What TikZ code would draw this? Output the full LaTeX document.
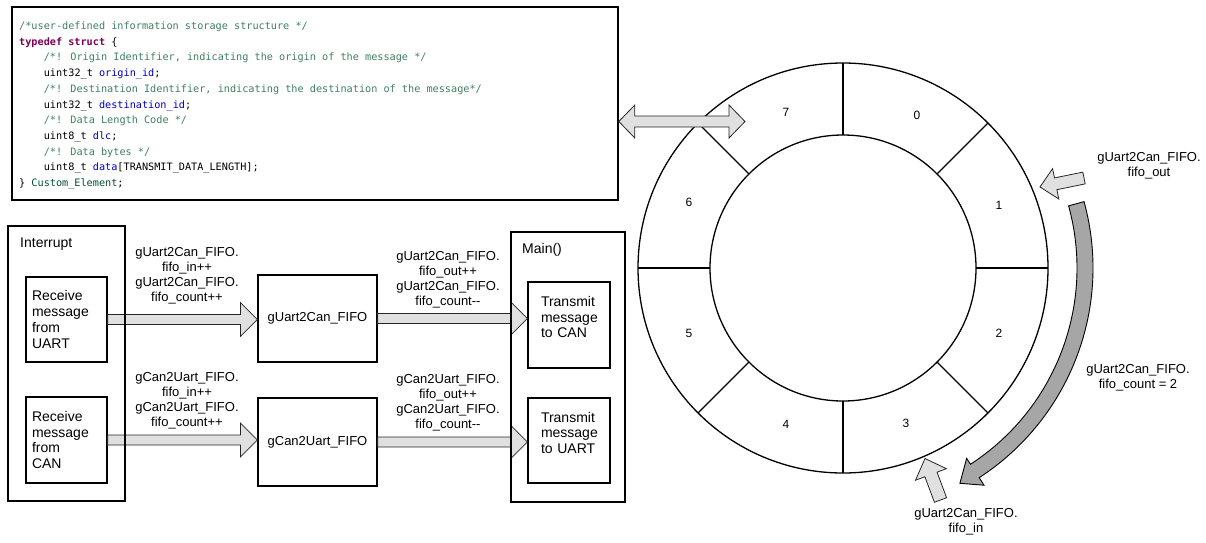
\documentclass[tikz,border=0pt]{standalone}
\usepackage{fontspec}
\setmainfont{Liberation Sans}
\newfontfamily\codefont{DejaVu Sans Mono}
\usetikzlibrary{calc}
\definecolor{cmt}{RGB}{63,127,95}
\definecolor{kw}{RGB}{127,0,85}
\definecolor{idf}{RGB}{0,0,192}
\definecolor{typ}{RGB}{0,80,50}
\definecolor{lgray}{RGB}{224,224,224}
\definecolor{dgray}{RGB}{166,166,166}
% #1 extra style, #2 tail, #3 tip, #4 shaft half width, #5 head half width, #6 head length
\newcommand\blockarrow[6][]{%
  \path let \p1=(#2), \p2=(#3) in \pgfextra{%
    \pgfmathsetmacro\balen{veclen(\x2-\x1,\y2-\y1)}%
    \pgfmathsetmacro\baang{atan2(\y2-\y1,\x2-\x1)}%
    \xdef\gbalen{\balen}\xdef\gbaang{\baang}};
  \filldraw[barrow,#1,shift={(#2)},rotate=\gbaang]
    (0,-#4) -- (\gbalen-#6,-#4) -- (\gbalen-#6,-#5) -- (\gbalen,0) --
    (\gbalen-#6,#5) -- (\gbalen-#6,#4) -- (0,#4) -- cycle;
}
\newcommand\dblockarrow[6][]{%
  \path let \p1=(#2), \p2=(#3) in \pgfextra{%
    \pgfmathsetmacro\balen{veclen(\x2-\x1,\y2-\y1)}%
    \pgfmathsetmacro\baang{atan2(\y2-\y1,\x2-\x1)}%
    \xdef\gbalen{\balen}\xdef\gbaang{\baang}};
  \filldraw[barrow,#1,shift={(#2)},rotate=\gbaang]
    (0,0) -- (#6,-#5) -- (#6,-#4) -- (\gbalen-#6,-#4) -- (\gbalen-#6,-#5) -- (\gbalen,0) --
    (\gbalen-#6,#5) -- (\gbalen-#6,#4) -- (#6,#4) -- (#6,#5) -- cycle;
}
\begin{document}
\begin{tikzpicture}[x=1pt,y=-1pt,
  code/.style={anchor=base west,inner sep=0pt,font=\codefont\fontsize{10.2}{12}\selectfont},
  ibox/.style={draw,line width=1.2pt,align=left,font=\fontsize{14}{15.7}\selectfont,inner ysep=0pt},
  fbox/.style={draw,line width=1.2pt,font=\fontsize{13}{15}\selectfont,minimum width=119pt,inner sep=0pt},
  cont/.style={draw,line width=1.2pt,inner sep=0pt},
  ttl/.style={anchor=west,inner sep=0pt,font=\fontsize{14}{16}\selectfont},
  lbl/.style={align=center,font=\fontsize{13}{15}\selectfont,inner sep=0pt},
  num/.style={font=\fontsize{12}{14}\selectfont,inner sep=0pt},
  ring/.style={line width=1.3pt},
  barrow/.style={fill=lgray,draw=black!85,line width=0.8pt,line join=miter},
]
\useasboundingbox (0,0) rectangle (1206,542);

% ---------- code box ----------
\node[draw,line width=1.6pt,minimum width=606pt,minimum height=193pt,inner sep=0pt] (cbox) at (315,103.5) {};
\node[code,text=cmt] (c1) at (19,29.5) {/*user-defined information storage structure */};
\node[code] (c2) at (19,45.2) {\textcolor{kw}{\bfseries typedef struct} \{};
\node[code,text=cmt] (c3) at (43.6,60.9) {/*! Origin Identifier, indicating the origin of the message */};
\node[code] (c4) at (43.6,76.6) {uint32\_t \textcolor{idf}{origin\_id};};
\node[code,text=cmt] (c5) at (43.6,92.3) {/*! Destination Identifier, indicating the destination of the message*/};
\node[code] (c6) at (43.6,108) {uint32\_t \textcolor{idf}{destination\_id};};
\node[code,text=cmt] (c7) at (43.6,123.7) {/*! Data Length Code */};
\node[code] (c8) at (43.6,139.4) {uint8\_t \textcolor{idf}{dlc};};
\node[code,text=cmt] (c9) at (43.6,155.1) {/*! Data bytes */};
\node[code] (c10) at (43.6,170.8) {uint8\_t \textcolor{idf}{data}[TRANSMIT\_DATA\_LENGTH];};
\node[code] (c11) at (19,186.5) {\} \textcolor{typ}{Custom\_Element};};

% ---------- left block diagram ----------
\node[ibox,text width=69pt,inner xsep=6pt,minimum height=85pt] (recvU) at (66.5,319.5) {Receive\\message\\from\\UART};
\node[ibox,text width=69pt,inner xsep=6pt,minimum height=86pt] (recvC) at (66.5,440) {Receive\\message\\from\\CAN};
\node[fbox,minimum height=87pt] (fifoU) at (317.5,318.5) {gUart2Can\_FIFO};
\node[fbox,minimum height=88pt] (fifoC) at (317.5,442) {gCan2Uart\_FIFO};
\node[ibox,text width=56pt,inner xsep=13pt,minimum height=86pt] (tcan) at (569,325) {Transmit\\message\\to CAN\\\mbox{}};
\node[ibox,text width=56pt,inner xsep=13pt,minimum height=85pt] (tuart) at (569,440.5) {Transmit\\message\\to UART\\\mbox{}};

\blockarrow{recvU.east}{fifoU.west |- recvU.east}{5}{17}{17}
\blockarrow{fifoU.east}{tcan.west |- fifoU.east}{5}{17}{17}
\blockarrow{recvC.east}{fifoC.west |- recvC.east}{5}{17}{17}
\blockarrow{fifoC.east}{tuart.west |- fifoC.east}{5}{17}{17}

\node[cont,minimum width=117pt,minimum height=275pt] (intr) at (66.5,363.5) {};
\node[cont,minimum width=114pt,minimum height=270pt] (mainb) at (568,367) {};
\node[ttl] (intrl) at (20,244) {Interrupt};
\node[ttl] (mainl) at (522,250) {Main()};

\node[lbl] (l1) at (187,276) {gUart2Can\_FIFO.\\fifo\_in++\\gUart2Can\_FIFO.\\fifo\_count++};
\node[lbl] (l2) at (448,279.5) {gUart2Can\_FIFO.\\fifo\_out++\\gUart2Can\_FIFO.\\fifo\_count{-}{-}};
\node[lbl] (l3) at (187,400.5) {gCan2Uart\_FIFO.\\fifo\_in++\\gCan2Uart\_FIFO.\\fifo\_count++};
\node[lbl] (l4) at (448,402.5) {gCan2Uart\_FIFO.\\fifo\_out++\\gCan2Uart\_FIFO.\\fifo\_count{-}{-}};

% ---------- ring buffer ----------
\coordinate (ctr) at (843,268);
\draw[ring] (ctr) circle[radius=205];
\draw[ring] (ctr) circle[radius=133];
\foreach \a in {0,45,...,315} \draw[ring] ($(ctr)+(\a:133)$) -- ($(ctr)+(\a:205)$);
\node[num] (r7) at (786,112) {7};
\node[num] (r0) at (917,115) {0};
\node[num] (r1) at (999,205) {1};
\node[num] (r2) at (999,333) {2};
\node[num] (r3) at (906,423) {3};
\node[num] (r4) at (786,424) {4};
\node[num] (r5) at (689,333) {5};
\node[num] (r6) at (689,202) {6};

\coordinate (dy) at (0,121.5);
\coordinate (dl) at (cbox.east |- dy);
\coordinate (dr) at (745,121.5);
\dblockarrow{dl}{dr}{5.5}{16.5}{16}

% count arrow
\filldraw[fill=dgray,draw=black,line width=0.9pt,line join=miter]
  ($(ctr)+(-15.4:234)$) arc[start angle=-15.4,end angle=57,radius=234]
  -- ($(ctr)+(57:227)$) -- ($(ctr)+(61.5:245)$) -- ($(ctr)+(57:259)$) -- ($(ctr)+(57:250)$)
  arc[start angle=57,end angle=-15.4,radius=250] -- cycle;

\coordinate (fot) at (1084,178);
\coordinate (foh) at (1040,187);
\blockarrow{fot}{foh}{6}{15.5}{16}
\coordinate (fit) at (940.5,500);
\coordinate (fih) at (925,458.5);
\blockarrow{fit}{fih}{6.5}{16.5}{17}

\node[lbl] (lout) at (1149,166) {gUart2Can\_FIFO.\\fifo\_out};
\node[lbl] (lcnt) at (1138,378) {gUart2Can\_FIFO.\\fifo\_count = 2};
\node[lbl] (lin) at (966,522) {gUart2Can\_FIFO.\\fifo\_in};
\end{tikzpicture}
\end{document}
